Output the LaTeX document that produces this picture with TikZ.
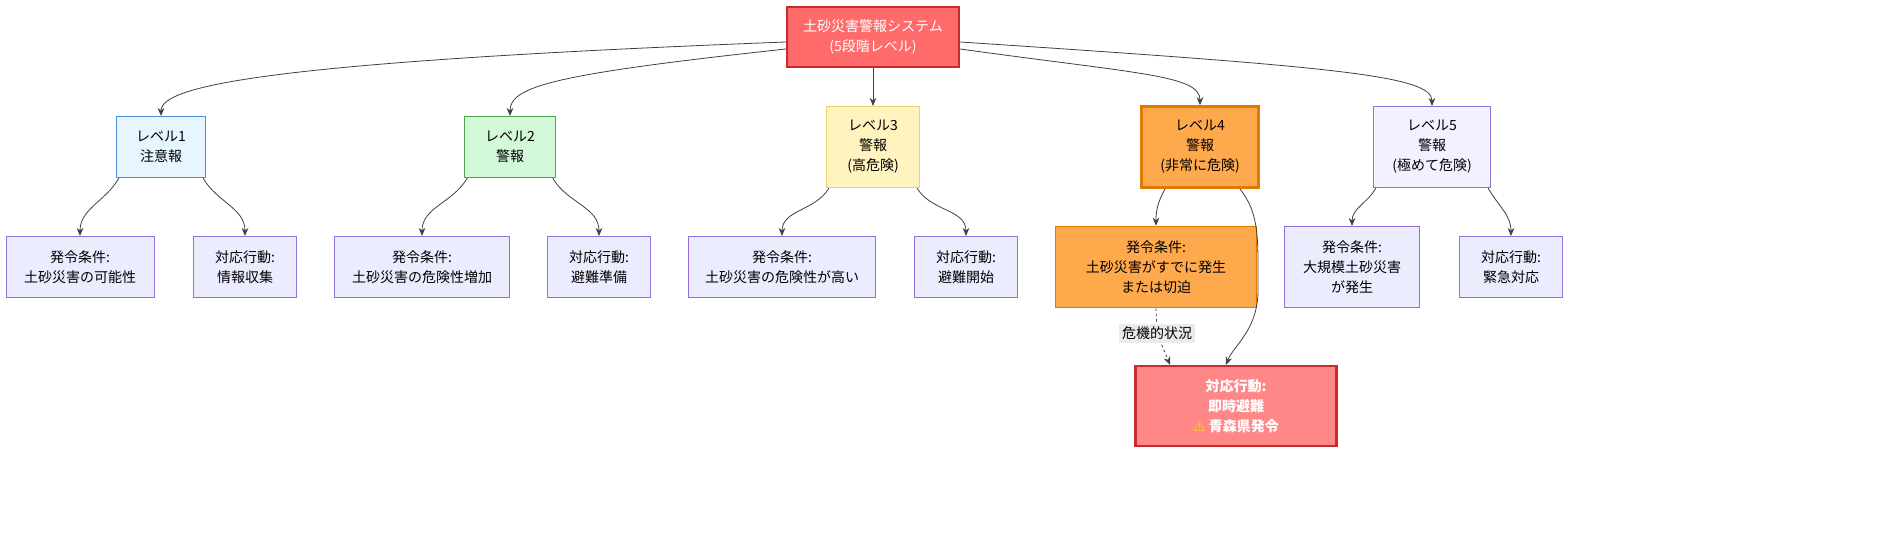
\documentclass[tikz,border=0pt]{standalone}
\usepackage{fontspec}
\setmainfont{Noto Sans CJK JP}
\newfontfamily\symfont{DejaVu Sans}
\usetikzlibrary{calc, arrows.meta}
\definecolor{defill}{HTML}{ECECFF}
\definecolor{deline}{HTML}{9370DB}
\definecolor{topfill}{HTML}{FF6B6B}
\definecolor{redline}{HTML}{C92A2A}
\definecolor{orgfill}{HTML}{FFA94D}
\definecolor{orgline}{HTML}{E07B00}
\definecolor{evacfill}{HTML}{FF8787}
\definecolor{bluefill}{HTML}{E7F5FF}
\definecolor{blueline}{HTML}{4A90D9}
\definecolor{greenfill}{HTML}{D3F9D8}
\definecolor{greenline}{HTML}{51A351}
\definecolor{yelfill}{HTML}{FFF3BF}
\definecolor{yelline}{HTML}{F0D070}
\definecolor{purpfill}{HTML}{F3F0FF}
\tikzset{
  box/.style={draw=deline, fill=defill, line width=0.6pt, align=center, inner sep=0pt,
    font=\fontsize{10.5}{15}\selectfont},
  arr/.style={-{Stealth[length=6pt,width=5pt]}, draw=black!75, line width=0.6pt},
}
\begin{document}
\begin{tikzpicture}[x=0.75pt, y=-0.75pt]
	\useasboundingbox (0,0) rectangle (1904,550);
	% top
	\node [box,fill=topfill,draw=redline,line width=1.8pt,text=white,minimum width=129pt,minimum height=45pt](top) at (873,37){土砂災害警報システム\\(5段階レベル)};
	% levels
	\node [box,fill=bluefill,draw=blueline,minimum width=67pt,minimum height=46pt](l1) at (161,147){レベル1\\注意報};
	\node [box,fill=greenfill,draw=greenline,minimum width=68pt,minimum height=46pt](l2) at (510,147){レベル2\\警報};
	\node [box,fill=yelfill,draw=yelline,minimum width=70pt,minimum height=61pt](l3) at (873,147){レベル3\\警報\\(高危険)};
	\node [box,fill=orgfill,draw=orgline,line width=1.8pt,minimum width=88pt,minimum height=61pt](l4) at (1200,147){レベル4\\警報\\(非常に危険)};
	\node [box,fill=purpfill,draw=deline,minimum width=88pt,minimum height=61pt](l5) at (1432,147){レベル5\\警報\\(極めて危険)};
	% conditions and actions
	\node [box,minimum width=111pt,minimum height=46pt](c1) at (80,267){発令条件:\\土砂災害の可能性};
	\node [box,minimum width=77pt,minimum height=46pt](a1) at (245,267){対応行動:\\情報収集};
	\node [box,minimum width=131pt,minimum height=46pt](c2) at (422,267){発令条件:\\土砂災害の危険性増加};
	\node [box,minimum width=77pt,minimum height=46pt](a2) at (599,267){対応行動:\\避難準備};
	\node [box,minimum width=140pt,minimum height=46pt](c3) at (782,267){発令条件:\\土砂災害の危険性が高い};
	\node [box,minimum width=77pt,minimum height=46pt](a3) at (966,267){対応行動:\\避難開始};
	\node [box,fill=orgfill,draw=orgline,line width=1pt,minimum width=151pt,minimum height=61pt](c4) at (1156,267){発令条件:\\土砂災害がすでに発生\\または切迫};
	\node [box,minimum width=101pt,minimum height=61pt](c5) at (1352,267){発令条件:\\大規模土砂災害\\が発生};
	\node [box,minimum width=77pt,minimum height=46pt](a5) at (1511,267){対応行動:\\緊急対応};
	\node [box,fill=evacfill,draw=redline,line width=1.8pt,text=white,minimum width=151pt,minimum height=60pt,font=\fontsize{10.5}{15}\selectfont\bfseries](a4) at (1236,406){対応行動:\\即時避難\\{\symfont\textcolor{yellow!80!orange}{⚠}} 青森県発令};
	\coordinate (bend) at (1258,290);

	\draw[arr]($(top.west)+(0,5)$) .. controls +(-520,20) and +(0,-30) .. (l1.north);
	\draw[arr]($(top.west)+(0,12)$) .. controls +(-230,25) and +(0,-30) .. (l2.north);
	\draw[arr](top)--(l3);
	\draw[arr]($(top.east)+(0,12)$) .. controls +(180,25) and +(0,-30) .. (l4.north);
	\draw[arr]($(top.east)+(0,5)$) .. controls +(380,25) and +(0,-30) .. (l5.north);

	\draw[arr]($(l1.south west)+(3,0)$) to[out=240,in=90] (c1);
	\draw[arr]($(l1.south east)+(-3,0)$) to[out=-60,in=90] (a1);
	\draw[arr]($(l2.south west)+(3,0)$) to[out=240,in=90] (c2);
	\draw[arr]($(l2.south east)+(-3,0)$) to[out=-60,in=90] (a2);
	\draw[arr]($(l3.south west)+(3,0)$) to[out=240,in=90] (c3);
	\draw[arr]($(l3.south east)+(-3,0)$) to[out=-60,in=90] (a3);
	\draw[arr]($(l4.south west)+(25,0)$) to[out=240,in=90] (c4);
	\draw[arr]($(l4.south east)+(-20,0)$) .. controls +(20,25) and +(0,-50) .. (bend) .. controls +(0,40) and +(8,-20) .. ($(a4.north)+(-10,0)$);
	\draw[arr]($(l5.south west)+(3,0)$) to[out=240,in=90] (c5);
	\draw[arr]($(l5.south east)+(-3,0)$) to[out=-60,in=90] (a5);

	\draw[arr,dash pattern=on 2pt off 2pt](c4.south) -- ++(1,25) -- node[pos=0.01,fill=black!8,inner sep=2pt,font=\fontsize{10.5}{15}\selectfont]{危機的状況} ($(a4.north)+(-66,0)$);
\end{tikzpicture}
\end{document}
